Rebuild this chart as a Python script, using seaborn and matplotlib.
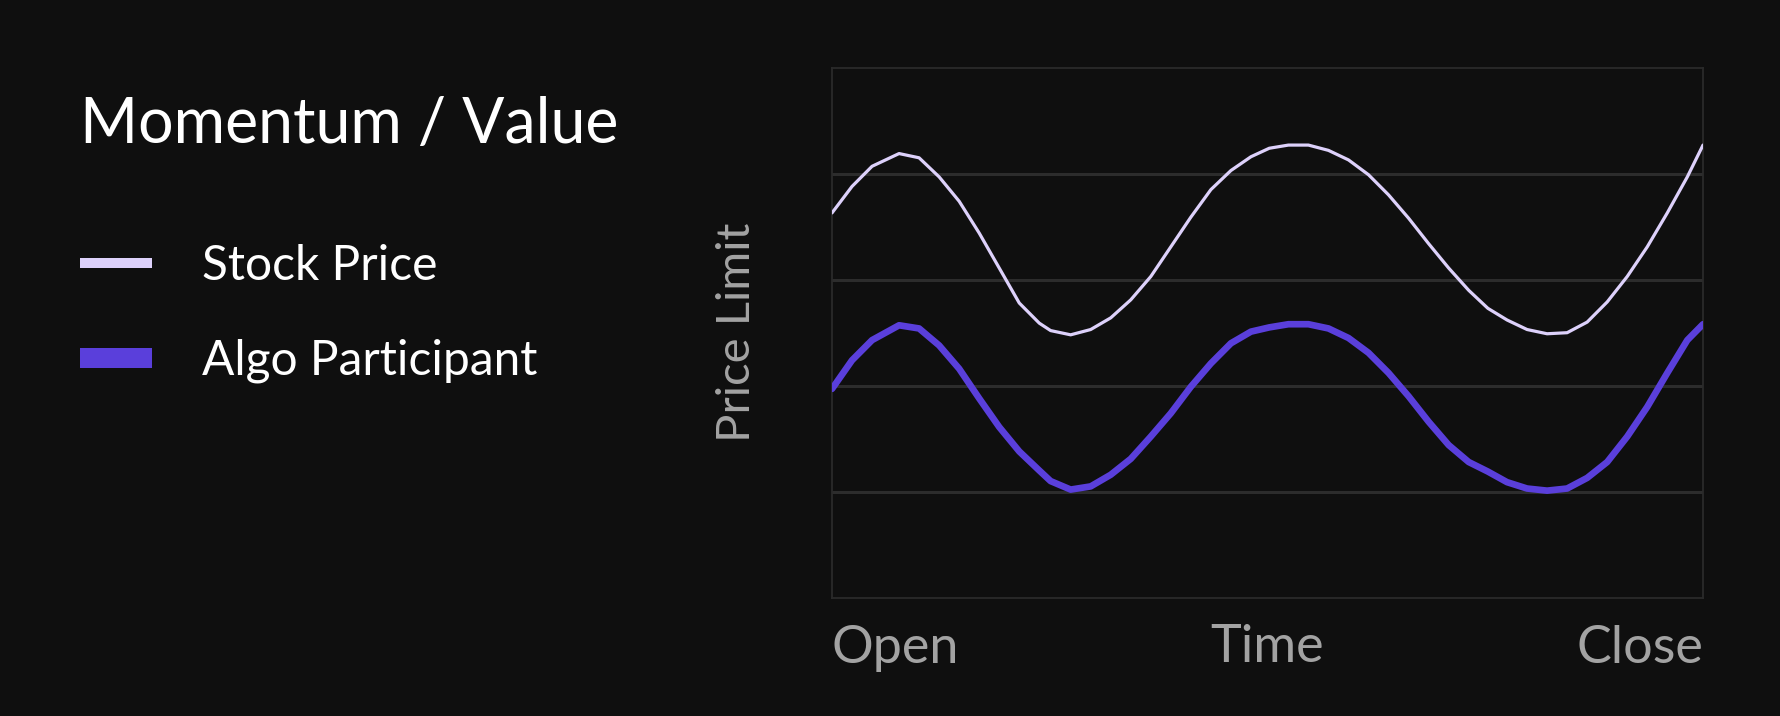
import matplotlib
matplotlib.use("Agg")
import matplotlib.pyplot as plt
import seaborn as sns
import pandas as pd

# values (x: 0 = open, 100 = close)
time_x = [0, 2.3, 4.6, 7.7, 10.0, 12.3, 14.6, 16.9, 19.2, 21.5, 23.8,
          25.1, 27.4, 29.7, 32.0, 34.3, 36.6, 38.9, 41.2, 43.5, 45.8, 48.1,
          50.2, 52.4, 54.7, 57.0, 59.3, 61.6, 63.9, 66.2, 68.5, 70.8, 73.1,
          75.3, 77.5, 79.8, 82.1, 84.4, 86.7, 89.0, 91.3, 93.6, 95.9, 98.2, 100]
stock_price = [3.63, 3.88, 4.07, 4.19, 4.15, 3.97, 3.74, 3.44, 3.11, 2.78, 2.59,
               2.52, 2.48, 2.53, 2.64, 2.81, 3.03, 3.31, 3.59, 3.85, 4.03, 4.16,
               4.24, 4.27, 4.27, 4.22, 4.13, 3.99, 3.80, 3.58, 3.34, 3.11, 2.90,
               2.73, 2.62, 2.53, 2.49, 2.50, 2.60, 2.79, 3.03, 3.31, 3.63, 3.97, 4.27]
algo_participant = [1.97, 2.24, 2.43, 2.57, 2.54, 2.38, 2.16, 1.88, 1.61, 1.38, 1.20,
                    1.10, 1.02, 1.05, 1.16, 1.31, 1.52, 1.74, 1.99, 2.21, 2.40, 2.51,
                    2.55, 2.58, 2.58, 2.54, 2.45, 2.31, 2.12, 1.90, 1.66, 1.44, 1.28,
                    1.19, 1.09, 1.03, 1.01, 1.03, 1.13, 1.28, 1.52, 1.80, 2.12, 2.43, 2.58]

series_names = ["Stock Price", "Algo Participant"]
tick_pos = [0, 100]
tick_labels = ["Open", "Close"]
grid_levels = [1, 2, 3, 4]

BG = "#0f0f0f"
STOCK_COLOR = "#ddd1fb"
ALGO_COLOR = "#5a3fdb"
GRID = "#2c2c2c"
MUTED = "#a3a3a3"

sns.set_theme(style="dark", rc={
    "figure.facecolor": BG,
    "axes.facecolor": BG,
    "axes.edgecolor": "#2a2a2a",
    "axes.linewidth": 1.3,
    "grid.color": GRID,
    "text.color": "white",
})
plt.rcParams["font.family"] = ["Lato", "DejaVu Sans"]

df = pd.DataFrame({"t": time_x, series_names[0]: stock_price,
                   series_names[1]: algo_participant})

fig = plt.figure(figsize=(17.8, 7.16), dpi=100)
ax = fig.add_axes([832 / 1780, 1 - 597.7 / 716, 871 / 1780, 530 / 716])

for lvl in grid_levels:
    ax.axhline(lvl, color=GRID, linewidth=2.2, zorder=1)

sns.lineplot(data=df, x="t", y=series_names[0], ax=ax, color=STOCK_COLOR, linewidth=2.3,
             label=series_names[0], zorder=3, solid_joinstyle="round")
sns.lineplot(data=df, x="t", y=series_names[1], ax=ax, color=ALGO_COLOR, linewidth=4.8,
             label=series_names[1], zorder=3, solid_joinstyle="round")

ax.set_xlim(0, 100)
ax.set_ylim(0, 5)
ax.set_yticks([])
ax.set_xticks(tick_pos)
ax.set_xticklabels(tick_labels, fontsize=37.5, color=MUTED)
ax.tick_params(axis="x", length=0, pad=20)
labs = ax.get_xticklabels()
labs[0].set_horizontalalignment("left")
labs[-1].set_horizontalalignment("right")
ax.set_xlabel("Time", fontsize=37.5, color=MUTED)
ax.xaxis.set_label_coords(0.5, -0.05)
ax.xaxis.label.set_verticalalignment("top")
ax.set_ylabel("Price Limit", fontsize=34, color=MUTED, labelpad=53)
ax.grid(False)
for s in ax.spines.values():
    s.set_color("#2a2a2a")

handles, labels = ax.get_legend_handles_labels()
ax.legend_.remove()
leg = fig.legend(handles, labels, loc="upper left",
                 bbox_to_anchor=(80 / 1780, 1 - 244 / 716), frameon=False,
                 fontsize=34.5, handlelength=1.5, handletextpad=1.05,
                 labelspacing=1.05, borderpad=0, borderaxespad=0, labelcolor="white")
for h, w in zip(leg.legend_handles, [7.2, 14.4]):
    h.set_linewidth(w)
    h.set_solid_capstyle("butt")

fig.text(80 / 1780, 1 - 143 / 716, "Momentum / Value", fontsize=45, color="white",
         ha="left", va="baseline")

fig.savefig("out.png", dpi=100, facecolor=BG)
